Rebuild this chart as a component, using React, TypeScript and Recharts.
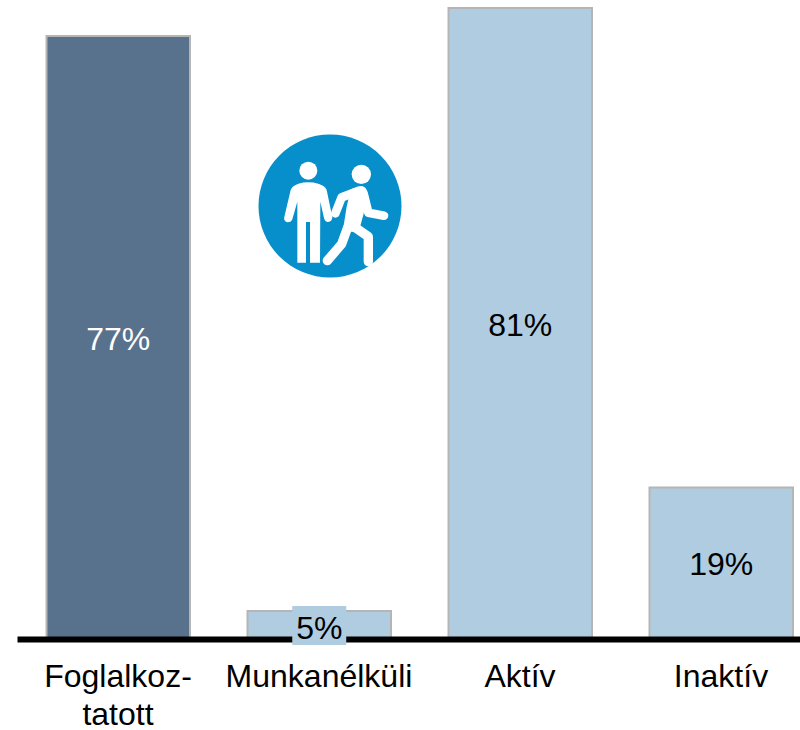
import React from "react";
import { BarChart, Bar, XAxis, YAxis, Cell, LabelList } from "recharts";

const categories = ["Foglalkoz-\ntatott", "Munkanélküli", "Aktív", "Inaktív"];
const values = [77.4, 3.65, 81, 19.5];
const labels = ["77%", "5%", "81%", "19%"];
const fills = ["#58718c", "#b0cce0", "#b0cce0", "#b0cce0"];
const labelColors = ["#ffffff", "#000000", "#000000", "#000000"];
const data = categories.map((name, i) => ({ name, value: values[i], label: labels[i] }));

const FONT = "'Liberation Sans', Arial, sans-serif";

const Tick = (props: any) => {
  const { x, payload } = props;
  const lines = String(payload.value).split("\n");
  return (
    <g>
      {lines.map((l: string, i: number) => (
        <text key={l} x={x} y={687 + i * 38} textAnchor="middle" fontSize={32} fontFamily={FONT} fill="#000">
          {l}
        </text>
      ))}
    </g>
  );
};

const ValueLabel = (props: any) => {
  const { x, y, width, height, index } = props;
  const cx = x + width / 2;
  const cy = index === 1 ? 627 : y + height / 2 + 0.5;
  return (
    <g>
      {index === 1 && <rect x={cx - 27} y={606} width={54} height={39} fill="#b0cce0" />}
      <text x={cx} y={cy + 11.5} textAnchor="middle" fontSize={32} fontFamily={FONT} fill={labelColors[index]}>
        {labels[index]}
      </text>
    </g>
  );
};

const Icon = () => (
  <svg width={800} height={730} style={{ position: "absolute", left: 0, top: 0, pointerEvents: "none" }}>
    <circle cx={330} cy={206} r={71.5} fill="#078fcb" />
    <g transform="translate(230 120) scale(0.33333)" fill="#fff" stroke="#fff" strokeLinecap="round" strokeLinejoin="round">
      <circle cx={235} cy={152} r={27} stroke="none" />
      <path stroke="none" d="M205,191 Q235,183 265,191 Q285,197 290,210 L307,292 Q306,306 294,306 Q285,306 282,294 L271,245 L270,428 L240,428 L240,306 L228,306 L228,428 L202,428 L202,245 L187,298 Q183,308 172,307 Q160,303 163,291 L182,210 Q187,197 205,191 Z" />
      <circle cx={394} cy={163} r={29} stroke="none" />
      <path fill="none" strokeWidth={26} d="M388,212 L335,232 L316,280" />
      <path fill="none" strokeWidth={26} d="M402,225 L415,278 L462,287" />
      <path fill="none" strokeWidth={28} d="M352,325 L335,372 L292,422" />
      <path fill="none" strokeWidth={28} d="M375,322 L415,350 L415,425" />
      <path stroke="none" d="M362,208 L395,198 Q410,200 414,222 L400,285 L386,335 L338,335 L350,260 Z" />
    </g>
  </svg>
);

export default function App() {
  return (
    <div style={{ position: "absolute", left: 0, top: 0, width: 800, height: 730, overflow: "hidden", background: "#fff" }}>
      <BarChart
        width={821.5}
        height={730}
        data={data}
        margin={{ top: 8, right: 0, bottom: 0, left: 17.5 }}
        barCategoryGap={0}
      >
        <YAxis hide domain={[0, 81]} />
        <XAxis
          dataKey="name"
          interval={0}
          height={90.5}
          axisLine={{ stroke: "#000", strokeWidth: 6 }}
          tickLine={false}
          tick={<Tick />}
        />
        <Bar dataKey="value" barSize={143.5} stroke="#b5b5b5" strokeWidth={2} isAnimationActive={false}>
          {data.map((d, i) => (
            <Cell key={d.name} fill={fills[i]} />
          ))}
          <LabelList dataKey="label" content={<ValueLabel />} />
        </Bar>
      </BarChart>
      <Icon />
    </div>
  );
}
